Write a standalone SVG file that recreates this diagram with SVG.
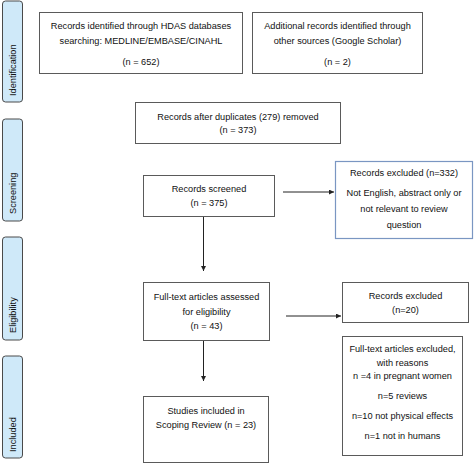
<svg xmlns="http://www.w3.org/2000/svg" width="474" height="465" viewBox="0 0 474 465">
<style>
.box{fill:#fff;stroke:#5a5a5a;stroke-width:1}
.bbox{fill:#fff;stroke:#7a96c2;stroke-width:1.2}
.side{fill:#cfe9f9;stroke:#4a4a4a;stroke-width:1}
text{font-family:"Liberation Sans",Arial,sans-serif;font-size:9.2px;fill:#111;text-anchor:middle}
.st{text-anchor:start}
.ln{stroke:#222;stroke-width:1;fill:none}
</style>
<defs>
<marker id="ah" viewBox="0 0 10 10" refX="10" refY="5" markerWidth="5" markerHeight="5" orient="auto" markerUnits="userSpaceOnUse">
<path d="M0,0 L10,5 L0,10 z" fill="#222"/>
</marker>
</defs>
<g id="side-identification"><rect class="side" x="2.5" y="1" width="20" height="101" rx="3"/><text class="st" transform="translate(15.5,96) rotate(-90)">Identification</text></g>
<g id="side-screening"><rect class="side" x="2.5" y="119" width="20" height="102" rx="3"/><text class="st" transform="translate(15.5,214) rotate(-90)">Screening</text></g>
<g id="side-eligibility"><rect class="side" x="2.5" y="237" width="20" height="103" rx="3"/><text class="st" transform="translate(15.5,333) rotate(-90)">Eligibility</text></g>
<g id="side-included"><rect class="side" x="2.5" y="356" width="20" height="102" rx="3"/><text class="st" transform="translate(15.5,452) rotate(-90)">Included</text></g>

<g id="n-hdas"><rect class="box" x="39.5" y="12.5" width="203" height="61"/>
<text x="141" y="29">Records identified through HDAS databases</text>
<text x="141" y="44">searching: MEDLINE/EMBASE/CINAHL</text>
<text x="141" y="65">(n = 652)</text></g>
<g id="n-additional"><rect class="box" x="252.5" y="12.5" width="170" height="61"/>
<text x="337.5" y="29">Additional records identified through</text>
<text x="337.5" y="44">other sources (Google Scholar)</text>
<text x="337.5" y="65">(n = 2)</text></g>
<g id="n-dupes"><rect class="box" x="135.5" y="102.5" width="205" height="41"/>
<text x="238" y="120">Records after duplicates (279) removed</text>
<text x="238" y="133">(n = 373)</text></g>
<g id="n-screened"><rect class="box" x="143.5" y="175.5" width="131" height="41"/>
<text x="209" y="192">Records screened</text>
<text x="209" y="206">(n = 375)</text></g>
<g id="n-excl332"><rect class="bbox" x="335.5" y="161.5" width="137" height="77"/>
<text x="404" y="176">Records excluded (n=332)</text>
<text x="404" y="196">Not English, abstract only or</text>
<text x="404" y="212">not relevant to review</text>
<text x="404" y="228">question</text></g>
<g id="n-fulltext"><rect class="box" x="143.5" y="282.5" width="126" height="58"/>
<text x="206.5" y="300">Full-text articles assessed</text>
<text x="206.5" y="315">for eligibility</text>
<text x="206.5" y="329">(n = 43)</text></g>
<g id="n-excl20"><rect class="box" x="342.5" y="282.5" width="126" height="40"/>
<text x="405.5" y="299">Records excluded</text>
<text x="405.5" y="313">(n=20)</text></g>
<g id="n-exclreasons"><rect class="box" x="342.5" y="336.5" width="120" height="119"/>
<text x="402.5" y="352">Full-text articles excluded,</text>
<text x="402.5" y="366">with reasons</text>
<text x="402.5" y="379">n =4 in pregnant women</text>
<text x="402.5" y="399">n=5 reviews</text>
<text x="402.5" y="419">n=10 not physical effects</text>
<text x="402.5" y="439">n=1 not in humans</text></g>
<g id="n-included"><rect class="box" x="143.5" y="396.5" width="125" height="66"/>
<text x="206" y="414">Studies included in</text>
<text x="206" y="428">Scoping Review (n = 23)</text></g>

<g id="connectors">
<line class="ln" x1="283" y1="192" x2="334" y2="192" marker-end="url(#ah)"/>
<line class="ln" x1="203.5" y1="217" x2="203.5" y2="271" marker-end="url(#ah)"/>
<line class="ln" x1="286" y1="316" x2="341" y2="316" marker-end="url(#ah)"/>
<line class="ln" x1="203.5" y1="341" x2="203.5" y2="381" marker-end="url(#ah)"/>
</g>
</svg>
